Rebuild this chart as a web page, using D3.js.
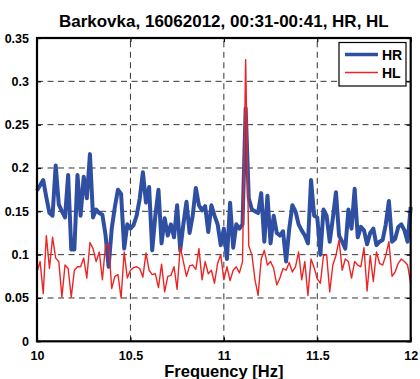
<!DOCTYPE html>
<html>
<head>
<meta charset="utf-8">
<script src="https://cdn.jsdelivr.net/npm/d3@7"></script>
<style>
  html, body { margin: 0; padding: 0; background: #fff; }
  svg { display: block; }
  text { font-family: "Liberation Sans", Arial, sans-serif; font-weight: bold; }
</style>
</head>
<body>
<script>
const titleText = "Barkovka, 16062012, 00:31-00:41, HR, HL";
const xLabel = "Frequency [Hz]";
const freqStart = 10;
const freqStep = 1 / 60;
const xTicks = [10, 10.5, 11, 11.5, 12];
const xTickLabels = ["10", "10.5", "11", "11.5", "12"];
const yTicks = [0, 0.05, 0.1, 0.15, 0.2, 0.25, 0.3, 0.35];
const yTickLabels = ["0", "0.05", "0.1", "0.15", "0.2", "0.25", "0.3", "0.35"];
const seriesNames = ["HR", "HL"];

const HR = [
  0.174, 0.180, 0.186, 0.166, 0.148, 0.145, 0.203, 0.158, 0.150, 0.143,
  0.192, 0.106, 0.106, 0.192, 0.145, 0.190, 0.165, 0.216, 0.143, 0.152,
  0.148, 0.146, 0.123, 0.086, 0.130, 0.155, 0.175, 0.170, 0.107, 0.135,
  0.130, 0.134, 0.145, 0.165, 0.195, 0.160, 0.178, 0.105, 0.145, 0.175,
  0.113, 0.142, 0.122, 0.135, 0.120, 0.157, 0.105, 0.135, 0.161, 0.125,
  0.145, 0.177, 0.157, 0.151, 0.156, 0.126, 0.157, 0.145, 0.135, 0.111,
  0.130, 0.095, 0.160, 0.108, 0.135, 0.130, 0.135, 0.269, 0.165, 0.152,
  0.150, 0.148, 0.171, 0.115, 0.168, 0.113, 0.145, 0.125, 0.122, 0.127,
  0.092, 0.130, 0.157, 0.150, 0.135, 0.128, 0.122, 0.113, 0.186, 0.145,
  0.143, 0.100, 0.152, 0.145, 0.115, 0.142, 0.172, 0.122, 0.115, 0.107,
  0.152, 0.130, 0.176, 0.120, 0.132, 0.128, 0.112, 0.125, 0.130, 0.111,
  0.115, 0.117, 0.135, 0.162, 0.115, 0.118, 0.132, 0.135, 0.128, 0.115,
  0.155
];

const HL = [
  0.080, 0.092, 0.055, 0.122, 0.084, 0.120, 0.096, 0.092, 0.051, 0.088,
  0.084, 0.051, 0.082, 0.086, 0.086, 0.096, 0.073, 0.114, 0.107, 0.092,
  0.103, 0.071, 0.111, 0.112, 0.061, 0.075, 0.077, 0.050, 0.103, 0.073,
  0.082, 0.085, 0.086, 0.084, 0.074, 0.102, 0.082, 0.077, 0.078, 0.062,
  0.089, 0.057, 0.075, 0.076, 0.086, 0.060, 0.109, 0.092, 0.075, 0.087,
  0.088, 0.083, 0.107, 0.071, 0.092, 0.078, 0.082, 0.067, 0.090, 0.100,
  0.071, 0.086, 0.070, 0.082, 0.086, 0.079, 0.092, 0.325, 0.110, 0.100,
  0.071, 0.053, 0.095, 0.105, 0.088, 0.092, 0.084, 0.065, 0.073, 0.084,
  0.082, 0.091, 0.080, 0.086, 0.103, 0.071, 0.092, 0.053, 0.095, 0.085,
  0.072, 0.067, 0.099, 0.100, 0.057, 0.088, 0.099, 0.117, 0.082, 0.095,
  0.092, 0.073, 0.092, 0.088, 0.086, 0.108, 0.058, 0.099, 0.069, 0.103,
  0.090, 0.088, 0.099, 0.115, 0.075, 0.080, 0.090, 0.095, 0.092, 0.088,
  0.067
];

const W = 420, H = 379;
const margin = { left: 37, right: 9.3, top: 38, bottom: 37.7 };
const colors = { HR: "#2F4FA2", HL: "#EE2424" };

const svg = d3.select("body").append("svg").attr("width", W).attr("height", H);

const x = d3.scaleLinear().domain([10, 12]).range([margin.left, W - margin.right]);
const y = d3.scaleLinear().domain([0, 0.35]).range([H - margin.bottom, margin.top]);

const x0 = x.range()[0], x1 = x.range()[1], y0 = y.range()[0], y1 = y.range()[1];

// grid
const grid = svg.append("g");
grid.selectAll("line.gx").data(xTicks.slice(1, -1)).enter().append("line")
  .attr("x1", d => x(d)).attr("x2", d => x(d)).attr("y1", y0).attr("y2", y1)
  .attr("stroke", "#333").attr("stroke-width", 1).attr("stroke-dasharray", "6,4.5");
grid.selectAll("line.gy").data(yTicks.slice(1, -1)).enter().append("line")
  .attr("x1", x0).attr("x2", x1).attr("y1", d => y(d)).attr("y2", d => y(d))
  .attr("stroke", "#333").attr("stroke-width", 1).attr("stroke-dasharray", "6,4.5");

// data
const pts = arr => arr.map((v, i) => [freqStart + i * freqStep, v]);
const line = d3.line().x(d => x(d[0])).y(d => y(d[1]));

svg.append("path").datum(pts(HR)).attr("d", line)
  .attr("fill", "none").attr("stroke", colors.HR).attr("stroke-width", 4)
  .attr("stroke-linejoin", "round");
svg.append("path").datum(pts(HL)).attr("d", line)
  .attr("fill", "none").attr("stroke", colors.HL).attr("stroke-width", 1.4)
  .attr("stroke-linejoin", "round");

// axes (inward ticks)
const fmtX = d => xTickLabels[xTicks.indexOf(d)];
const fmtY = d => yTickLabels[yTicks.indexOf(d)];

const axB = svg.append("g").attr("transform", `translate(0,${y0})`)
  .call(d3.axisBottom(x).tickValues(xTicks).tickFormat(fmtX).tickSizeInner(-4).tickSizeOuter(0).tickPadding(10));
const axL = svg.append("g").attr("transform", `translate(${x0},0)`)
  .call(d3.axisLeft(y).tickValues(yTicks).tickFormat(fmtY).tickSizeInner(-4).tickSizeOuter(0).tickPadding(8));
const axT = svg.append("g").attr("transform", `translate(0,${y1})`)
  .call(d3.axisTop(x).tickValues(xTicks).tickFormat("").tickSizeInner(-4).tickSizeOuter(0));
const axR = svg.append("g").attr("transform", `translate(${x1},0)`)
  .call(d3.axisRight(y).tickValues(yTicks).tickFormat("").tickSizeInner(-4).tickSizeOuter(0));

[axB, axL, axT, axR].forEach(a => {
  a.select(".domain").remove();
  a.selectAll(".tick line").attr("stroke", "#000").attr("stroke-width", 1.2);
  a.selectAll("text").attr("fill", "#000").style("font-size", "12.5px")
    .style("font-family", "'Liberation Sans', Arial, sans-serif").style("font-weight", "bold");
});

// box
svg.append("rect").attr("x", x0).attr("y", y1).attr("width", x1 - x0).attr("height", y0 - y1)
  .attr("fill", "none").attr("stroke", "#000").attr("stroke-width", 2.2);

// title
svg.append("text").attr("x", (x0 + x1) / 2).attr("y", 27).attr("text-anchor", "middle")
  .style("font-size", "17px").text(titleText);

// x label
svg.append("text").attr("x", (x0 + x1) / 2).attr("y", 377).attr("text-anchor", "middle")
  .style("font-size", "16.5px").text(xLabel);

// legend
const lg = svg.append("g");
lg.append("rect").attr("x", 339).attr("y", 42.5).attr("width", 67).attr("height", 43.5)
  .attr("fill", "#fff").attr("stroke", "#000").attr("stroke-width", 1.2);
const legendRows = [
  { name: seriesNames[0], color: colors.HR, w: 3.5, yy: 54.5 },
  { name: seriesNames[1], color: colors.HL, w: 1.4, yy: 72.5 }
];
legendRows.forEach(r => {
  lg.append("line").attr("x1", 345).attr("x2", 378).attr("y1", r.yy).attr("y2", r.yy)
    .attr("stroke", r.color).attr("stroke-width", r.w);
  lg.append("text").attr("x", 382).attr("y", r.yy + 5).style("font-size", "14px").text(r.name);
});
</script>
</body>
</html>
